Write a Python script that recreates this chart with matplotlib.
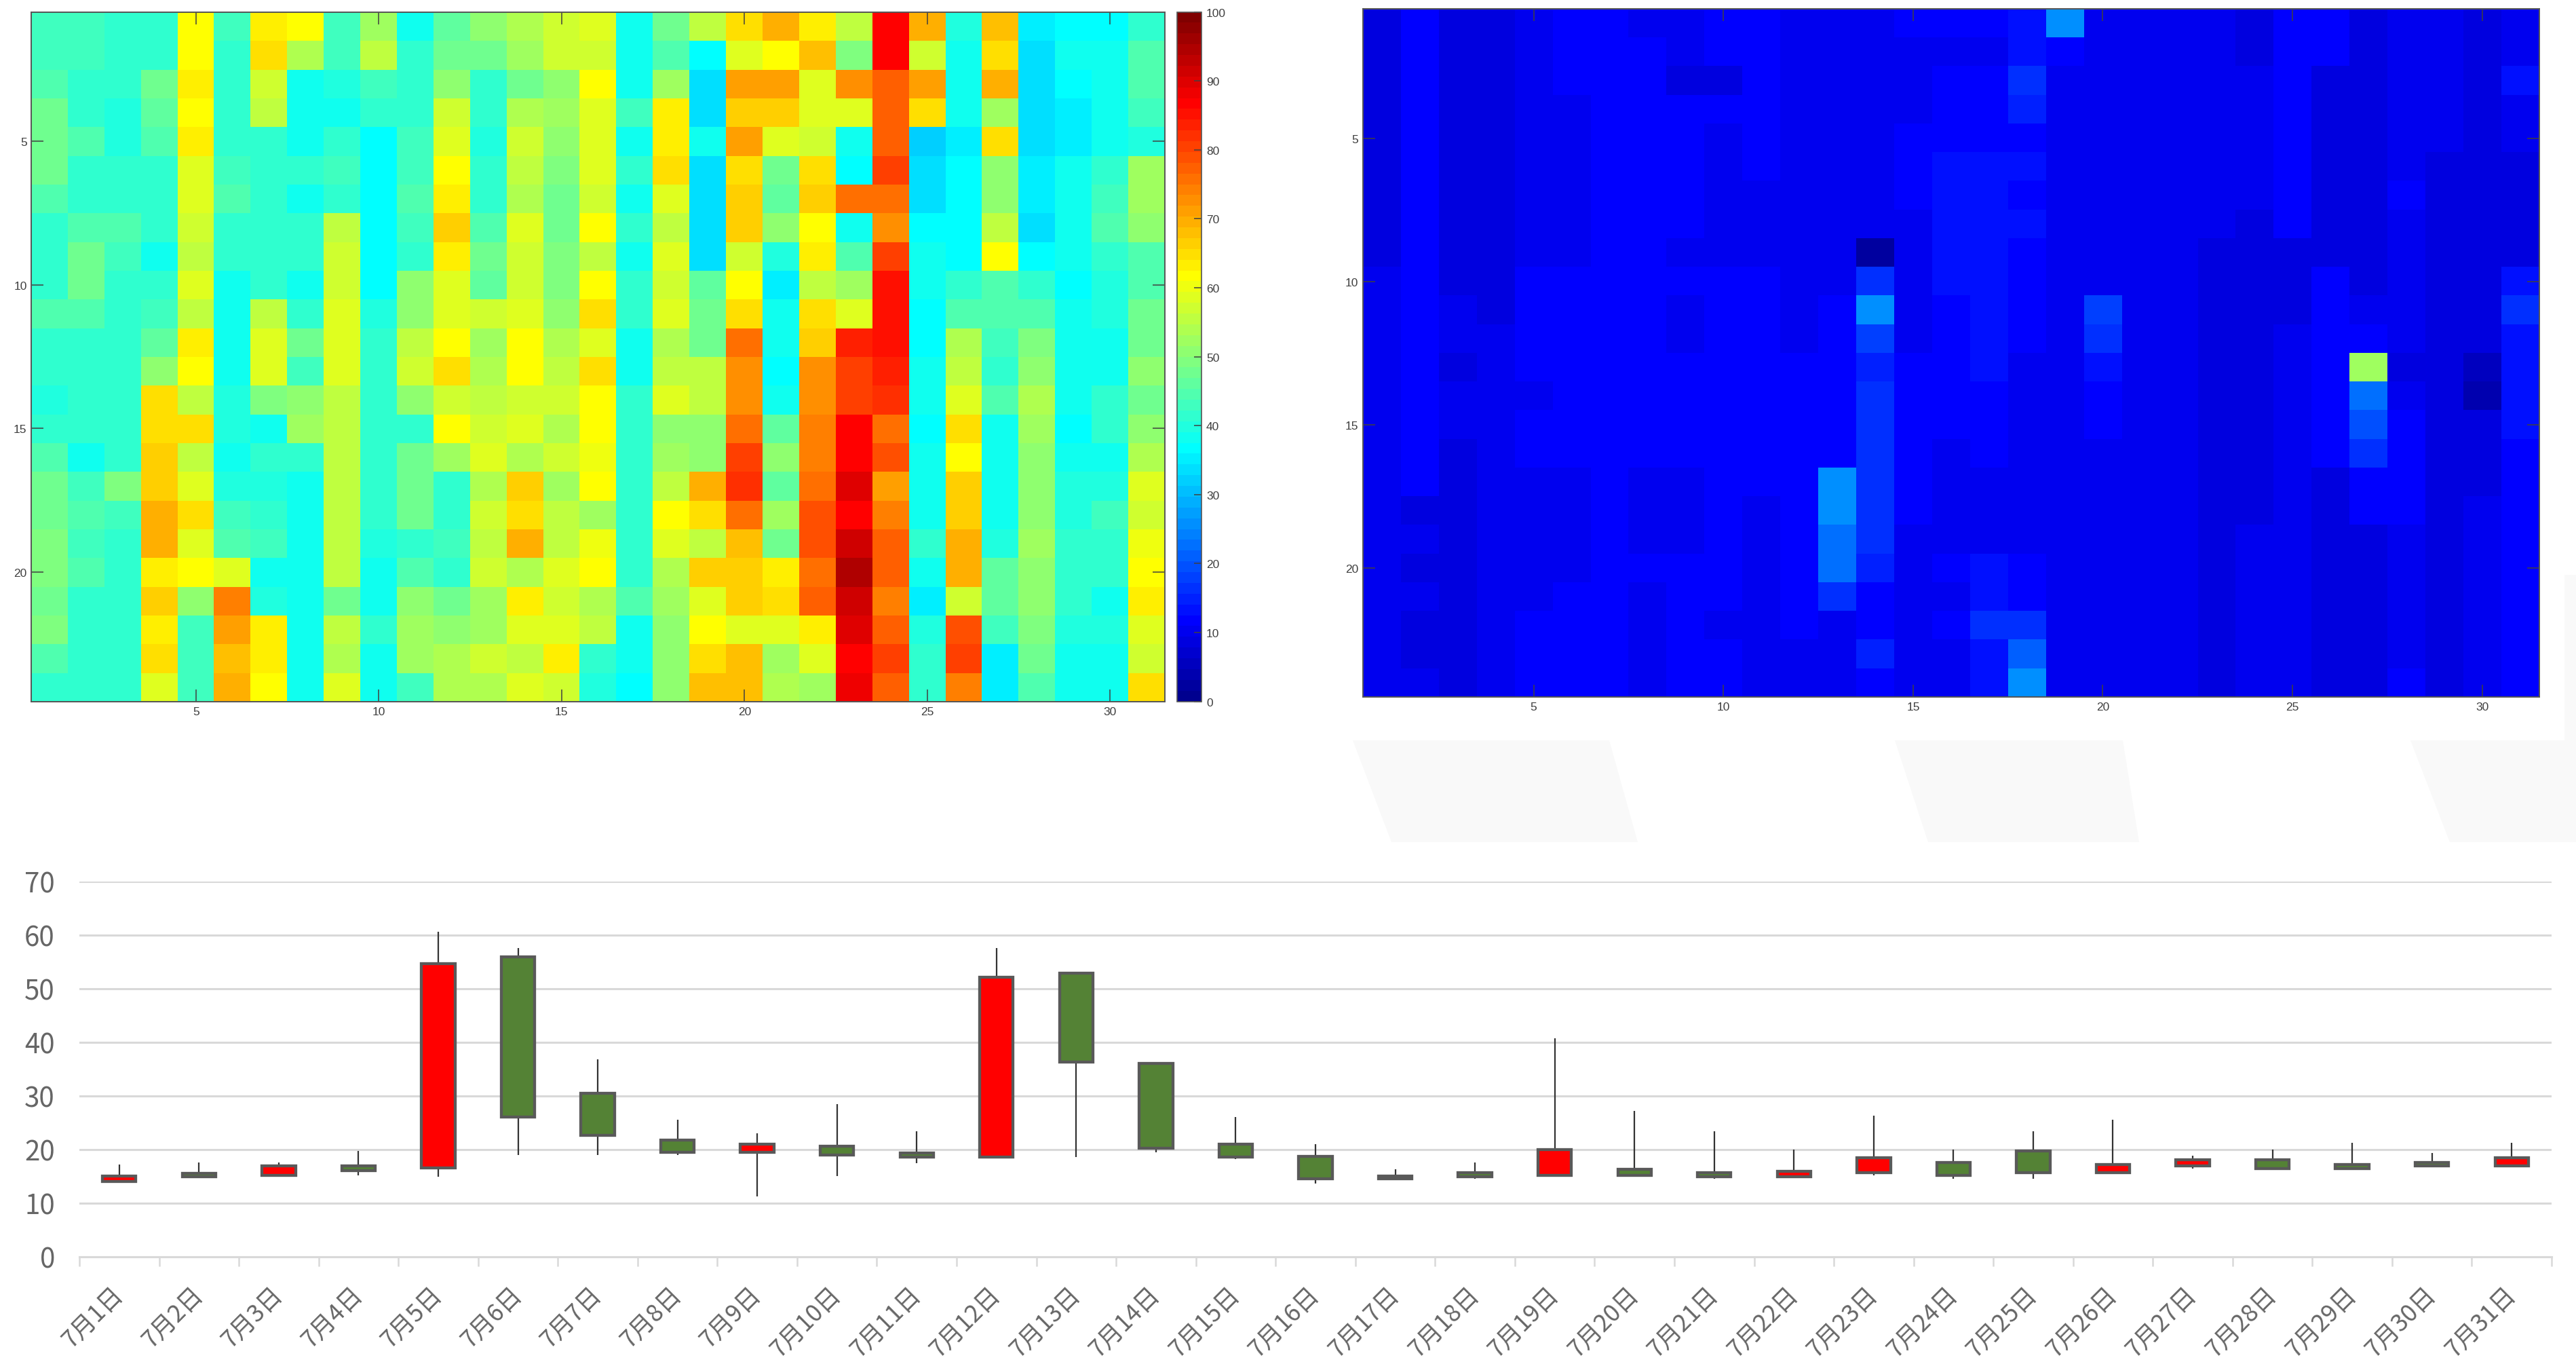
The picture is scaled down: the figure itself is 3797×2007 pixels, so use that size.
import numpy as np
import matplotlib
matplotlib.use("Agg")
import matplotlib.pyplot as plt
from matplotlib.patches import Polygon
from matplotlib.colors import ListedColormap

plt.rcParams['font.family'] = ['Liberation Sans', 'Noto Sans CJK SC', 'DejaVu Sans']

W, H = 3798, 2008
DPI = 100

hourly_a = [
 [43,43,41,42,61,43,63,61,43,53,39,46,51,54,57,59,39,48,55,65,69,63,55,87,69,40,68,35,37,37,42],
 [43,43,41,42,61,41,65,54,43,55,41,48,47,53,57,57,39,44,37,59,61,68,49,87,57,39,65,33,39,39,45],
 [45,42,42,47,64,41,57,39,40,43,41,51,42,48,51,61,39,53,33,71,71,59,72,78,71,39,69,33,37,39,45],
 [47,42,40,46,61,41,56,38,38,41,42,57,42,54,53,58,43,64,33,66,66,59,59,78,65,39,53,33,35,39,43],
 [47,45,40,45,63,41,41,39,42,37,43,59,40,57,50,58,39,63,38,71,59,57,38,78,32,35,65,33,35,38,40],
 [47,42,42,42,59,43,41,41,43,37,43,61,41,56,49,58,41,65,34,65,48,65,37,80,33,36,51,35,39,41,52],
 [45,42,42,42,59,45,41,39,42,37,45,63,41,54,48,57,39,59,34,66,46,66,75,76,33,36,50,35,39,43,52],
 [42,45,45,41,57,41,41,41,55,37,43,67,44,59,48,61,41,55,34,67,51,61,39,73,37,37,55,33,39,44,51],
 [42,48,43,39,55,41,41,41,57,37,41,64,47,57,49,55,39,58,34,57,40,64,45,80,39,37,61,37,39,41,45],
 [42,48,42,41,59,39,41,39,57,37,51,59,46,57,49,61,41,57,46,61,35,55,53,85,39,41,45,41,37,40,44],
 [45,45,41,43,56,39,55,41,58,40,51,59,57,58,50,65,41,58,48,65,38,65,58,85,37,45,45,45,38,40,47],
 [42,42,42,46,64,39,58,47,58,41,56,62,53,62,54,58,39,54,48,75,38,66,83,85,37,54,43,49,39,39,47],
 [42,42,42,50,61,39,59,43,58,41,57,65,54,62,56,65,39,55,55,72,37,72,81,83,38,56,42,51,38,38,51],
 [40,42,42,65,56,40,49,50,56,42,51,57,56,57,57,61,41,58,56,73,38,72,81,82,38,59,45,54,38,41,47],
 [42,42,42,65,65,40,38,52,56,42,42,61,57,59,54,62,41,51,51,76,46,74,87,76,37,65,38,53,36,41,51],
 [44,39,42,66,56,38,42,42,56,42,47,52,58,54,57,60,41,52,51,80,50,74,87,79,38,62,38,50,38,38,54],
 [47,43,49,67,59,40,40,38,56,42,47,42,54,66,53,61,41,55,69,82,46,76,90,71,38,66,38,51,40,40,58],
 [48,45,43,70,65,43,42,38,56,42,48,41,57,65,56,52,42,62,65,76,52,79,87,74,38,66,38,50,40,43,57],
 [49,43,41,69,59,44,43,38,56,40,41,43,55,69,56,60,42,59,55,68,48,79,92,78,41,69,40,52,42,42,60],
 [49,44,41,63,61,59,38,39,56,38,45,42,57,54,58,61,42,54,66,67,63,76,95,77,38,70,46,51,42,42,62],
 [48,42,41,67,51,74,40,38,48,38,51,48,53,64,57,54,45,53,59,67,65,77,92,74,35,57,46,50,42,39,63],
 [49,42,41,63,43,71,63,38,56,41,53,50,53,59,59,56,38,51,61,59,59,63,90,78,40,79,43,49,40,40,59],
 [45,42,41,65,43,68,63,38,54,38,53,54,57,55,63,42,38,51,65,68,53,59,87,80,41,80,35,48,39,39,57],
 [42,41,41,59,43,70,61,38,59,38,43,54,54,58,57,40,37,50,68,68,54,52,88,77,41,74,35,44,38,38,65],
]

hourly_b_cols = [
 [9,9,9,9,9,9,9,9,9,10,10,10,10,10,10,10,10,10,10,10,10,10,10,10],
 [11,11,11,11,11,11,11,11,11,11,11,11,11,11,11,11,11,8,10,8,10,9,9,10],
 [8,8,8,8,8,8,8,8,8,8,10,10,8,10,10,8,8,8,8,8,8,8,8,8],
 [8,8,8,8,8,8,8,8,8,8,8,10,10,10,10,10,10,10,10,10,10,10,10,10],
 [10,10,10,10,10,10,10,10,10,12,12,12,12,10,12,12,10,10,10,10,10,12,12,12],
 [12,12,12,10,10,10,10,10,10,12,12,12,12,12,12,12,10,10,10,10,12,12,12,12],
 [11,11,11,12,12,12,12,12,12,12,12,12,12,12,12,12,12,12,12,12,12,12,12,12],
 [10,12,12,12,12,12,12,12,12,12,12,12,12,12,12,12,10,10,10,12,10,10,10,10],
 [10,10,9,12,12,12,12,12,10,12,10,10,12,12,12,12,10,10,10,12,12,12,12,12],
 [12,12,9,12,10,10,10,10,10,12,12,12,12,12,12,12,12,12,12,12,12,10,12,12],
 [12,12,12,12,12,12,10,10,10,12,12,12,12,12,12,12,12,10,10,10,10,10,10,10],
 [10,10,10,10,10,10,10,10,10,10,10,10,12,12,12,12,12,12,12,12,12,12,10,10],
 [10,10,10,10,10,10,10,10,10,10,12,12,12,12,12,12,25,25,23,23,16,10,10,10],
 [10,10,10,10,10,10,10,10,3,16,25,18,15,16,16,16,16,16,16,15,12,12,15,12],
 [11,10,10,10,12,12,12,10,10,10,10,10,12,12,12,12,12,12,10,10,10,10,10,10],
 [11,10,12,12,12,14,14,14,14,14,12,12,12,12,12,10,10,10,10,12,10,12,10,10],
 [12,10,12,12,12,14,14,14,14,14,14,14,14,12,12,12,10,10,10,14,14,16,14,14],
 [14,14,17,15,12,13,12,13,12,12,12,12,10,10,10,10,10,10,10,12,12,17,21,25],
 [25,12,10,10,10,10,10,10,10,10,10,10,10,10,10,10,10,10,10,10,10,10,10,10],
 [10,10,10,10,10,10,10,10,10,10,18,17,14,12,12,10,10,10,10,10,10,10,10,10],
 [10,10,10,10,10,10,10,10,10,10,10,10,10,10,10,10,10,10,10,10,10,10,10,10],
 [10,10,10,10,10,10,10,10,10,10,10,10,10,10,10,10,10,10,10,10,10,10,10,10],
 [10,10,10,10,10,10,10,10,8,8,8,8,8,8,8,8,8,8,8,8,8,9,8,8],
 [8,8,10,10,10,10,10,8,8,8,8,8,8,8,8,8,8,8,10,10,10,10,10,10],
 [11,11,11,11,11,11,11,11,9,9,9,10,10,10,10,10,10,10,10,10,10,10,10,10],
 [11,11,9,9,9,9,9,9,9,11,11,11,11,11,11,11,9,9,9,9,9,9,9,9],
 [8,8,8,8,8,8,8,8,8,8,10,12,52,22,19,16,12,11,8,8,8,8,9,9],
 [10,10,10,10,10,10,12,10,10,10,10,10,8,10,12,12,12,12,10,10,10,10,10,12],
 [10,10,10,10,10,8,8,8,8,8,8,8,8,8,8,8,8,8,8,8,8,8,8,8],
 [9,9,9,9,9,8,8,8,8,8,8,8,6,4,8,8,8,10,10,10,10,10,10,10],
 [10,10,13,10,10,8,8,8,8,13,17,14,14,14,14,12,12,12,12,12,12,12,12,12],
]

days = [f"7月{d}日" for d in range(1, 32)]
body_top = [15.1,15.6,16.9,16.9,54.6,55.9,30.5,21.8,21.0,20.6,19.3,52.1,52.9,36.0,21.0,18.7,15.1,15.7,20.0,16.3,15.7,16.0,18.5,17.6,19.7,17.2,18.1,18.1,17.2,17.6,18.5]
body_bot = [14.0,14.9,15.2,16.1,16.6,26.1,22.7,19.5,19.5,19.0,18.6,18.6,36.3,20.3,18.6,14.6,14.5,14.9,15.2,15.2,14.9,14.9,15.7,15.2,15.7,15.7,17.0,16.5,16.5,17.0,17.0]
wick_hi = [17.2,17.6,17.6,19.7,60.6,57.5,36.8,25.5,23.0,28.4,23.4,57.5,52.9,36.0,26.0,21.0,16.3,17.6,40.7,27.2,23.4,20.0,26.3,20.0,23.4,25.5,18.8,20.0,21.3,19.3,21.3]
wick_lo = [14.0,14.9,15.2,15.2,14.9,19.0,19.0,19.0,11.2,15.0,17.4,18.6,18.6,19.5,18.2,13.7,14.5,14.5,15.2,15.2,14.5,14.9,15.2,14.5,14.5,15.7,16.5,16.5,16.5,17.0,17.0]
rising = [1,0,1,0,1,0,0,0,1,0,0,1,0,0,0,0,0,0,1,0,0,1,1,0,0,1,1,0,0,0,1]

yticks_c = [0, 10, 20, 30, 40, 50, 60, 70]
ticks_heat = [5, 10, 15, 20]
ticks_heat_x = [5, 10, 15, 20, 25, 30]
ticks_bar = list(range(0, 101, 10))

fig = plt.figure(figsize=(W / DPI, H / DPI), dpi=DPI, facecolor='white')


def px_axes(x0, y0, x1, y1, **kw):
    return fig.add_axes([x0 / W, 1 - y1 / H, (x1 - x0) / W, (y1 - y0) / H], **kw)


# faint watermark shapes behind everything
bg = fig.add_axes([0, 0, 1, 1], zorder=-5)
bg.set_xlim(0, W)
bg.set_ylim(H, 0)
bg.axis('off')
for pts in ([(1994, 1092), (2372, 1092), (2414, 1242), (2051, 1242)],
            [(2793, 1092), (3129, 1092), (3153, 1242), (2842, 1242)],
            [(3553, 1092), (3798, 1092), (3798, 1242), (3611, 1242)],
            [(3780, 848), (3798, 848), (3798, 1092), (3780, 1092)]):
    bg.add_patch(Polygon(pts, closed=True, fc='#f9f9f9', ec='none'))

# MATLAB-style jet with 64 levels
t = (np.arange(64) + 1) / 64
cmap = ListedColormap(np.clip(np.stack([np.minimum(4 * t - 1.5, -4 * t + 4.5),
                                        np.minimum(4 * t - 0.5, -4 * t + 3.5),
                                        np.minimum(4 * t + 0.5, -4 * t + 2.5)], axis=1), 0, 1))


def heat(x0, y0, x1, y1, data):
    ax = px_axes(x0, y0, x1, y1)
    arr = np.array(data, dtype=float)
    im = ax.imshow(arr, cmap=cmap, vmin=0, vmax=100, aspect='auto', interpolation='nearest',
                   extent=(0.5, 31.5, 24.5, 0.5))
    ax.set_xticks(ticks_heat_x)
    ax.set_yticks(ticks_heat)
    ax.tick_params(direction='in', length=13, width=1.1, top=True, right=True,
                   labelsize=12.5, colors='#404040', pad=5)
    for s in ax.spines.values():
        s.set_color('#555555')
        s.set_linewidth(1.4)
    return im


im = heat(46.5, 18.6, 1717, 1034.6, hourly_a)
heat(2009, 14.5, 3742.6, 1028, np.array(hourly_b_cols).T)

cax = px_axes(1735, 18.6, 1771, 1034.6)
cb = fig.colorbar(im, cax=cax)
cb.set_ticks(ticks_bar)
cb.ax.tick_params(direction='in', length=8, width=1.1, labelsize=12.5, colors='#404040', pad=5)
cb.outline.set_edgecolor('#555555')
cb.outline.set_linewidth(1.2)

# candlestick panel
ax = px_axes(117, 1299.6, 3761, 1853)
x = np.arange(1, 32)
top = np.array(body_top)
bot = np.array(body_bot)
ax.vlines(x, wick_lo, wick_hi, color='#333333', lw=1.6, zorder=2)
ax.bar(x, top - bot, bottom=bot, width=0.42,
       color=['#ff0000' if r else '#548235' for r in rising],
       edgecolor='#595959', linewidth=3.1, zorder=3)
ax.set_xlim(0.5, 31.5)
ax.set_ylim(0, 70)
ax.set_yticks(yticks_c)
ax.set_yticklabels([str(v) for v in yticks_c], fontsize=29, color='#666666',
                   family=['Noto Sans CJK SC', 'DejaVu Sans'])
ax.yaxis.grid(True, color='#d9d9d9', lw=2.2)
ax.set_axisbelow(True)
ax.tick_params(axis='y', length=0, pad=26)
for s in ('top', 'right', 'left'):
    ax.spines[s].set_visible(False)
ax.spines['bottom'].set_color('#d9d9d9')
ax.spines['bottom'].set_linewidth(2.2)
ax.set_xticks(np.arange(0.5, 32, 1))
ax.set_xticklabels([])
ax.tick_params(axis='x', which='major', length=10, width=1.8, color='#d9d9d9')
ax.set_xticks(x, minor=True)
ax.set_xticklabels(days, minor=True, rotation=45, ha='right', va='center', rotation_mode='anchor',
                   fontsize=25.5, color='#666666', family=['Noto Sans CJK SC', 'DejaVu Sans'])
ax.tick_params(axis='x', which='minor', length=0, pad=36)

fig.savefig('out.png', dpi=DPI, facecolor='white')
